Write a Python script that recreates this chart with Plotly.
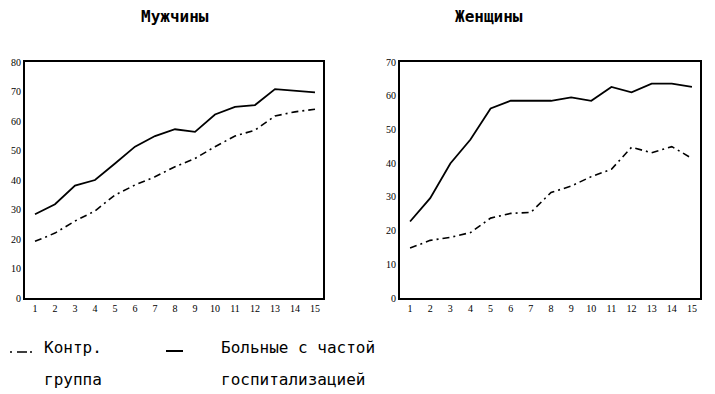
import plotly.graph_objects as go

x_groups = list(range(1, 16))
x_tick_labels = [str(i) for i in x_groups]

men_hospital = [28.4, 31.8, 38.1, 40.0, 45.6, 51.3, 54.9, 57.2, 56.3, 62.2, 64.8, 65.4, 70.8, 70.2, 69.7]
men_control = [19.2, 22.0, 26.1, 29.5, 34.9, 38.3, 41.1, 44.5, 47.3, 51.3, 54.9, 56.9, 61.7, 63.1, 64.0]
women_hospital = [22.7, 29.6, 39.9, 47.0, 56.2, 58.5, 58.5, 58.5, 59.5, 58.5, 62.6, 61.0, 63.6, 63.6, 62.6]
women_control = [14.8, 17.1, 18.0, 19.4, 23.7, 25.1, 25.4, 31.3, 33.2, 36.0, 38.2, 44.7, 43.1, 44.9, 41.4]

men_y_ticks = [0, 10, 20, 30, 40, 50, 60, 70, 80]
women_y_ticks = [0, 10, 20, 30, 40, 50, 60, 70]

title_men = "Мужчины"
title_women = "Женщины"
legend_control_1 = "Контр."
legend_control_2 = "группа"
legend_hosp_1 = "Больные с частой"
legend_hosp_2 = "госпитализацией"

# page has an 8px body margin; figure sized to fit the window
OFF = 8
W, H = 715 - OFF, 394 - OFF
def px_x(p):
    return (p - OFF) / W
def px_y(p):
    return 1 - (p - OFF) / H

fig = go.Figure()
solid = dict(color="black", width=1.8)
dashdot = dict(color="black", width=1.6, dash="7px,4px,2px,4px")

fig.add_trace(go.Scatter(x=x_groups, y=men_hospital, mode="lines", line=solid, xaxis="x", yaxis="y"))
fig.add_trace(go.Scatter(x=x_groups, y=men_control, mode="lines", line=dashdot, xaxis="x", yaxis="y"))
fig.add_trace(go.Scatter(x=x_groups, y=women_hospital, mode="lines", line=solid, xaxis="x2", yaxis="y2"))
fig.add_trace(go.Scatter(x=x_groups, y=women_control, mode="lines", line=dashdot, xaxis="x2", yaxis="y2"))

tickfont = dict(family="Liberation Serif, DejaVu Serif, serif", size=10, color="black")
common_x = dict(tickmode="array", tickvals=x_groups, ticktext=x_tick_labels, showgrid=False, zeroline=False,
                showline=True, linecolor="black", linewidth=2, mirror=True, ticks="", tickfont=tickfont,
                automargin=False)
common_y = dict(showgrid=False, zeroline=False, showline=True, linecolor="black", linewidth=2, mirror=True,
                ticks="", tickfont=tickfont, automargin=False)

fig.update_layout(
    width=W, height=H, margin=dict(l=0, r=0, t=0, b=0, autoexpand=False),
    plot_bgcolor="white", paper_bgcolor="white", showlegend=False,
    xaxis=dict(domain=[px_x(25), px_x(323)], range=[0.5, 15.4], anchor="y", **common_x),
    yaxis=dict(domain=[px_y(298), px_y(62)], range=[0, 80], anchor="x",
               tickvals=men_y_ticks, ticktext=[str(v) for v in men_y_ticks], **common_y),
    xaxis2=dict(domain=[px_x(400), px_x(700)], range=[0.5, 15.4], anchor="y2", **common_x),
    yaxis2=dict(domain=[px_y(298), px_y(62)], range=[0, 70], anchor="x2",
                tickvals=women_y_ticks, ticktext=[str(v) for v in women_y_ticks], **common_y),
)

title_font = dict(family="DejaVu Sans Mono, Liberation Mono, monospace", size=16, color="black")
leg_font = dict(family="DejaVu Sans Mono, Liberation Mono, monospace", size=16, color="black")

def ann(text, xp, yp, font, xanchor="left"):
    fig.add_annotation(text=text, x=px_x(xp), y=px_y(yp), xref="paper", yref="paper",
                       showarrow=False, font=font, xanchor=xanchor, yanchor="middle", align="left")

ann("<b>" + title_men + "</b>", 175, 17, title_font, "center")
ann("<b>" + title_women + "</b>", 489, 17, title_font, "center")
ann(legend_control_1, 42, 347, leg_font)
ann(legend_control_2, 42, 379, leg_font)
ann(legend_hosp_1, 219, 347, leg_font)
ann(legend_hosp_2, 219, 379, leg_font)

# legend samples
fig.add_shape(type="line", xref="paper", yref="paper", x0=px_x(3), x1=px_x(36), y0=px_y(352), y1=px_y(352),
              line=dict(color="black", width=1.6, dash="2px,5px,2px,5px,10px,3px"))
fig.add_shape(type="line", xref="paper", yref="paper", x0=px_x(166), x1=px_x(183), y0=px_y(351), y1=px_y(351),
              line=dict(color="black", width=2))

fig.write_html("out.html")
